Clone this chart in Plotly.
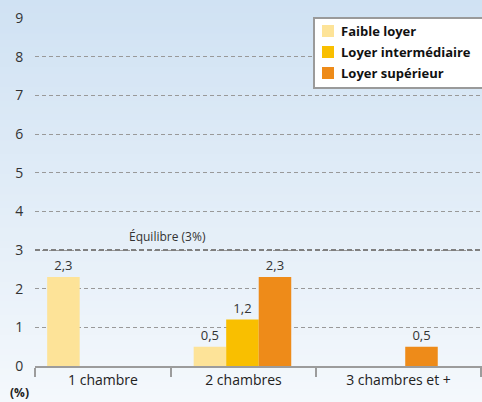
import plotly.graph_objects as go

# Data: vacancy rate (%) by dwelling size and rent level
categories = ["1 chambre", "2 chambres", "3 chambres et +"]
series_names = ["Faible loyer", "Loyer intermédiaire", "Loyer supérieur"]
faible = [2.3, 0.5, None]
intermediaire = [None, 1.2, None]
superieur = [None, 2.3, 0.5]
equilibre = 3
y_ticks = list(range(0, 10))

colors = ["#fde398", "#f9bf00", "#ee8b19"]
FONT = "'Open Sans', sans-serif"

# x layout: numeric positions 0,1,2 for groups; label boundaries around them
x_pos = list(range(len(categories)))
x_range = [-0.416, 2.635]
bounds = [-0.416, 0.512, 1.502, 2.628]
label_pos = [(bounds[i] + bounds[i + 1]) / 2 for i in range(len(categories))]

fig = go.Figure()
for name, vals, col in zip(series_names, [faible, intermediaire, superieur], colors):
    fig.add_trace(go.Bar(
        name=name, x=x_pos, y=vals, marker=dict(color=col, line=dict(width=0)),
        texttemplate="%{y:.1f}", textposition="outside",
        textfont=dict(size=13, color="#333333", family=FONT),
        cliponaxis=False, showlegend=False,
    ))

ml, mr, mt, mb = 35, 0, 18, 36
W, H = 482, 402
pw, ph = W - ml - mr, H - mt - mb


def px_x(px):
    return (px - ml) / pw


def px_y(py):
    return (H - mb - py) / ph


# vertical background gradient (light blue at top fading to near white)
shapes = []
n = 60
top = (208, 226, 243)
bot = (244, 248, 252)
for i in range(n):
    t = i / (n - 1)
    c = tuple(round(top[k] + (bot[k] - top[k]) * t) for k in range(3))
    shapes.append(dict(type="rect", xref="paper", yref="paper",
                       x0=-1, x1=2,
                       y0=px_y(H * (i + 1) / n) - 0.002, y1=px_y(H * i / n),
                       fillcolor="rgb(%d,%d,%d)" % c, line=dict(width=0),
                       layer="below"))

# equilibrium line
shapes.append(dict(type="line", xref="paper", yref="y", x0=0, x1=1,
                   y0=equilibre, y1=equilibre,
                   line=dict(color="#7f7f7f", width=2, dash="5px,3px")))

# legend box drawn by hand
shapes.append(dict(type="rect", xref="paper", yref="paper",
                   x0=px_x(314), x1=px_x(483), y0=px_y(88), y1=px_y(18),
                   fillcolor="#ffffff", line=dict(color="#9a9a9a", width=2)))
annotations = []
for i, (name, col) in enumerate(zip(series_names, colors)):
    cy = 31 + 21 * i
    shapes.append(dict(type="rect", xref="paper", yref="paper",
                       x0=px_x(322), x1=px_x(334), y0=px_y(cy + 6), y1=px_y(cy - 6),
                       fillcolor=col, line=dict(width=0)))
    annotations.append(dict(text="<b>%s</b>" % name, xref="paper", yref="paper",
                            x=px_x(339), y=px_y(cy), xanchor="left", yanchor="middle",
                            showarrow=False,
                            font=dict(size=13, color="#111111", family=FONT)))

annotations += [
    dict(text="Équilibre (3%)", xref="paper", yref="y", x=px_x(167), y=equilibre,
         xanchor="center", yanchor="bottom", yshift=3, showarrow=False,
         font=dict(size=12, color="#333333", family=FONT)),
    dict(text="<b>(%)</b>", xref="paper", yref="paper",
         x=px_x(19), y=px_y(392), xanchor="center", yanchor="middle",
         showarrow=False, font=dict(size=12, color="#222222", family=FONT)),
]

fig.update_layout(
    width=W, height=H,
    margin=dict(l=ml, r=mr, t=mt, b=mb),
    paper_bgcolor="#f4f8fc", plot_bgcolor="rgba(0,0,0,0)",
    separators=", ",
    barmode="group", bargap=0.334, bargroupgap=0,
    font=dict(family=FONT, color="#333333"),
    shapes=shapes,
    annotations=annotations,
    showlegend=False,
    xaxis=dict(
        range=x_range, tickmode="array", tickvals=label_pos, ticktext=categories,
        ticks="", showgrid=False, zeroline=False,
        showline=True, linecolor="#9c9c9c", linewidth=2,
        tickfont=dict(size=14, color="#222222", family=FONT),
        minor=dict(tickmode="array", tickvals=bounds, ticks="outside",
                   ticklen=9, tickwidth=2, tickcolor="#9c9c9c", showgrid=False),
        fixedrange=True,
    ),
    yaxis=dict(
        range=[0, 9], tickmode="array", tickvals=y_ticks,
        showgrid=True, gridcolor="#999999", gridwidth=1, griddash="4px,3px",
        zeroline=False, showline=False,
        ticks="outside", ticklen=8, tickcolor="rgba(0,0,0,0)",
        tickfont=dict(size=14, color="#333333", family=FONT),
        fixedrange=True,
    ),
)

fig.write_html("out.html")
